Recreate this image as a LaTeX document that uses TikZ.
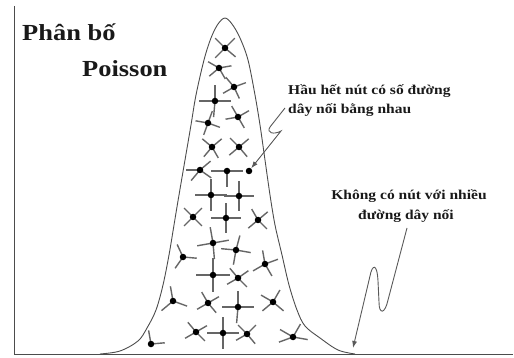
\documentclass[tikz,border=0pt]{standalone}
\usepackage{fontspec}
\setmainfont{Liberation Serif}
\newfontfamily\stretchfont[FakeStretch=1.15]{Liberation Serif}
\usetikzlibrary{arrows.meta}

\tikzset{
  hub/.style={circle,fill=black,inner sep=0pt,minimum size=6.5pt},
  spoke/.style={draw=black!60,line width=1.4pt},
  bell/.style={draw=black!70,line width=0.9pt},
  axis/.style={draw=black!70,line width=1pt},
  title/.style={font=\stretchfont\bfseries\fontsize{23}{26}\selectfont,inner sep=0pt,text=black!90},
  note/.style={font=\stretchfont\bfseries\fontsize{13.5}{16}\selectfont,inner sep=0pt,text=black!90},
  squig/.style={draw=black!65,line width=0.9pt}
}

\begin{document}
\begin{tikzpicture}[x=1pt,y=-1pt,>={Latex[length=7pt,width=5pt]}]
  \useasboundingbox (0,0) rectangle (514,358);
  % truc
  \draw[axis] (14,6) -- (14,354) -- (513,354);
  % duong cong phan bo
  \draw[bell] plot[smooth,tension=0.55] coordinates {
    (100,354) (120,351) (138,341) (147,328) (156,310) (163,285) (169,255)
    (174,225) (179,195) (185,160) (191,125) (196,95) (204,60) (211,38)
    (218,24) (225,18) (232,24) (240,38) (248,60) (255,95) (260,125)
    (265,160) (270,195) (275,225) (282,255) (289,285) (297,310) (305,326)
    (320,338) (338,350) (355,354)};
  % cac nut va duong day noi
  \foreach \x/\y/\l/\as [count=\i] in {
      225/48/12/{-135,-45,135,40}, 219/68/11/{-150,-10,140,60},
      234/87/11/{-130,-20,150,65}, 215/101/14/{-90,0,180,95},
      238/117/11/{-120,-30,60,170}, 208/123/11/{-70,20,110,190},
      212/147/11/{-140,-40,130,60}, 239/147/11/{-135,-40,140,50},
      200/170/12/{180,-40,130,35}, 227/171/14/{180,0,90},
      211/195/14/{180,0,-90,90}, 239/196/13/{-90,180,0,90},
      193/217/11/{-135,-45,135,45}, 226/218/13/{-90,0,180,90},
      258/220/11/{-120,-40,140,45}, 213/243/14/{-100,-10,170,85},
      236/250/13/{-75,185,10,100}, 183/257/12/{-115,5,125},
      265/264/12/{150,-100,-20,60}, 213/275/15/{-90,0,180,90},
      238/278/11/{-130,150,-35,45}, 173/301/13/{-100,20,140},
      208/303/11/{-120,-30,150,50}, 238/307/14/{-90,0,180,95},
      273/302/12/{-60,-150,140,40}, 196/332/11/{-130,-30,150,45},
      223/333/14/{-90,0,180,90}, 247/334/11/{-135,-45,150,50},
      293/337/13/{-60,-150,160,10}, 151/344/12/{-100,-5}}{
    \foreach \a in \as
      \draw[spoke] (\x,\y) -- ++(\a:{1.15*\l});
    \node[hub] (n\i) at (\x,\y) {};
  }
  \node[hub] (tip) at (249,171) {};
  % nhan
  \node[title,anchor=base west] (ttl1) at (22,41) {Phân bố};
  \node[title,anchor=base west] (ttl2) at (82,77) {Poisson};
  \node[note,anchor=base west] (na1) at (288,95) {Hầu hết nút có số đường};
  \node[note,anchor=base west] (na2) at (288,114) {dây nối bằng nhau};
  \node[note,anchor=base] (nb1) at (409,200) {Không có nút với nhiều};
  \node[note,anchor=base] (nb2) at (406,219) {đường dây nối};
  % mui ten
  \coordinate (a1) at (285,108);
  \coordinate (a2) at (407,228);
  \coordinate (t2) at (353,348);
  \draw[squig,->] (a1) -- (270,127) .. controls (266,133) and (274,135) .. (281,131) -- (tip);
  \draw[squig,->] (a2) -- (388,300) .. controls (385,314) and (379,315) .. (379,302)
    -- (378,281) .. controls (377,262) and (372,265) .. (370,276) -- (t2);
\end{tikzpicture}
\end{document}
